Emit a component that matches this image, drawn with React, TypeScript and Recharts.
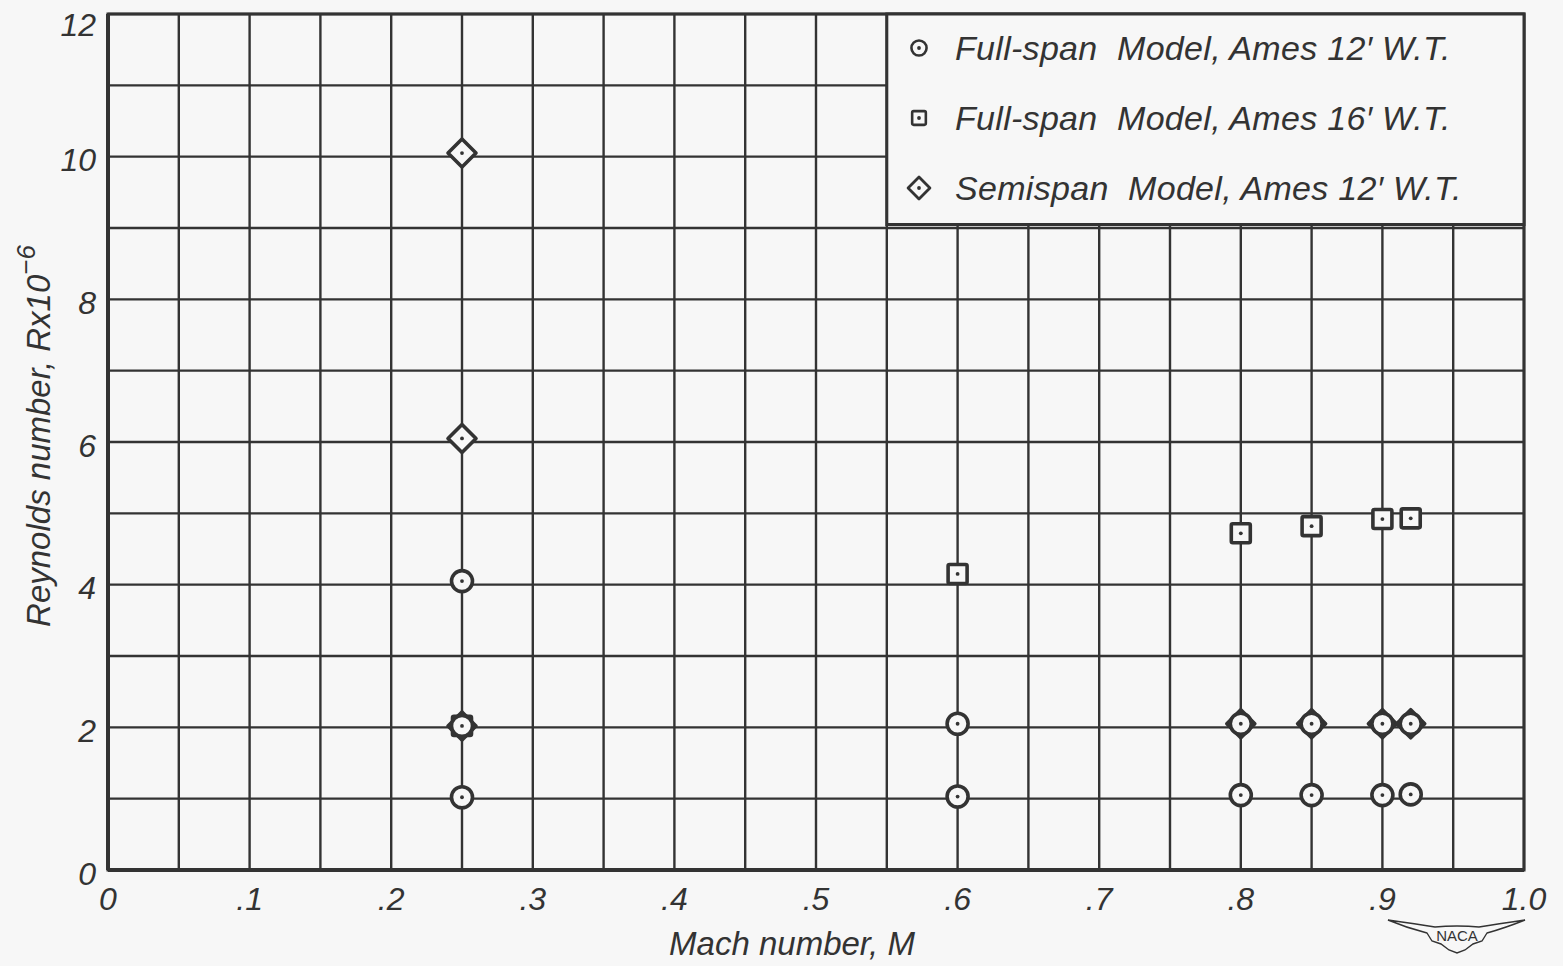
import React from "react";
import {
  ScatterChart,
  Scatter,
  XAxis,
  YAxis,
  CartesianGrid,
  ReferenceArea,
  Legend,
} from "recharts";

const INK = "#333333";
const PAPER = "#f7f7f7";
const FONT = '"Liberation Sans", Arial, sans-serif';

// axis ticks: grid every .05 in M and every 1 in R, labels on every other line
const machTicks = [0, 0.05, 0.1, 0.15, 0.2, 0.25, 0.3, 0.35, 0.4, 0.45, 0.5, 0.55, 0.6, 0.65, 0.7, 0.75, 0.8, 0.85, 0.9, 0.95, 1.0];
const machLabels = ["0", "", ".1", "", ".2", "", ".3", "", ".4", "", ".5", "", ".6", "", ".7", "", ".8", "", ".9", "", "1.0"];
const reTicks = [0, 1, 2, 3, 4, 5, 6, 7, 8, 9, 10, 11, 12];
const reLabels = ["0", "", "2", "", "4", "", "6", "", "8", "", "10", "", "12"];

// Full-span model, Ames 12' W.T.
const fullSpan12Mach = [0.25, 0.25, 0.25, 0.6, 0.6, 0.8, 0.8, 0.85, 0.85, 0.9, 0.9, 0.92, 0.92];
const fullSpan12Re = [1.02, 2.02, 4.05, 1.03, 2.05, 1.05, 2.05, 1.05, 2.05, 1.05, 2.05, 1.06, 2.05];

// Full-span model, Ames 16' W.T.
const fullSpan16Mach = [0.25, 0.6, 0.8, 0.85, 0.9, 0.92];
const fullSpan16Re = [2.02, 4.15, 4.72, 4.82, 4.92, 4.93];

// Semispan model, Ames 12' W.T.
const semispan12Mach = [0.25, 0.25, 0.25, 0.8, 0.85, 0.9, 0.92];
const semispan12Re = [2.02, 6.05, 10.05, 2.05, 2.05, 2.05, 2.05];

const legendItems = [
  { kind: "circle", label: "Full-span  Model, Ames 12\u2032 W.T." },
  { kind: "square", label: "Full-span  Model, Ames 16\u2032 W.T." },
  { kind: "diamond", label: "Semispan  Model, Ames 12\u2032 W.T." },
];

const zip = (ms: number[], rs: number[]) => ms.map((m, i) => ({ m, r: rs[i] }));

const circleData = zip(fullSpan12Mach, fullSpan12Re);
const squareData = zip(fullSpan16Mach, fullSpan16Re);
const diamondData = zip(semispan12Mach, semispan12Re);

function Mark({ kind, cx, cy, size = 1 }: { kind: string; cx: number; cy: number; size?: number }) {
  const sw = 3.6 * size;
  let outline;
  if (kind === "circle") {
    outline = <circle cx={cx} cy={cy} r={10.5 * size} fill={PAPER} stroke={INK} strokeWidth={sw} />;
  } else if (kind === "square") {
    const h = 9.5 * size;
    outline = <rect x={cx - h} y={cy - h} width={2 * h} height={2 * h} rx={1.5} fill={PAPER} stroke={INK} strokeWidth={sw} />;
  } else {
    const h = 14 * size;
    outline = (
      <polygon
        points={`${cx},${cy - h} ${cx + h},${cy} ${cx},${cy + h} ${cx - h},${cy}`}
        fill={PAPER}
        stroke={INK}
        strokeWidth={sw}
        strokeLinejoin="round"
      />
    );
  }
  return (
    <g>
      {outline}
      <circle cx={cx} cy={cy} r={1.9} fill={INK} />
    </g>
  );
}

const shapeOf = (kind: string) => (props: any) => <Mark kind={kind} cx={props.cx} cy={props.cy} />;

function YTick(props: any) {
  const { x, y, payload, index } = props;
  const label = reLabels[index] ?? String(payload.value);
  const yy = Math.max(y + 3, 24);
  return (
    <text x={x} y={yy} dy="0.36em" textAnchor="end" fontFamily={FONT} fontStyle="italic" fontSize={32} fill={INK}>
      {label}
    </text>
  );
}

function LegendBox() {
  return (
    <div style={{ position: "relative", width: 620, height: 200, fontFamily: FONT, fontStyle: "italic", color: INK }}>
      {legendItems.map((item, i) => (
        <div key={item.label} style={{ position: "absolute", left: 0, top: 18 + 70 * i, height: 40, display: "flex", alignItems: "center" }}>
          <svg width={40} height={40} style={{ display: "block" }}>
            <Mark kind={item.kind} cx={20} cy={20} size={item.kind === "diamond" ? 0.78 : 0.72} />
          </svg>
          <span style={{ marginLeft: 16, fontSize: 34, whiteSpace: "pre", letterSpacing: 0.3 }}>{item.label}</span>
        </div>
      ))}
    </div>
  );
}

function XTitle(props: any) {
  const vb = props.viewBox || { x: 0, y: 0, width: 0 };
  return (
    <text x={vb.x + vb.width / 2 - 24} y={vb.y + 85} textAnchor="middle" fontFamily={FONT} fontStyle="italic" fontSize={33} fill={INK}>
      Mach number, M
    </text>
  );
}

function YTitle(props: any) {
  const vb = props.viewBox || { x: 0, y: 0, height: 0 };
  const cx = 50;
  const cy = vb.y + vb.height / 2 - 6;
  return (
    <text transform={`translate(${cx},${cy}) rotate(-90)`} textAnchor="middle" fontFamily={FONT} fontStyle="italic" fontSize={33} fill={INK}>
      Reynolds number, Rx10
      <tspan dy={-15} fontSize={26}>{"\u2212"}6</tspan>
    </text>
  );
}

function NacaLogo() {
  return (
    <svg width={140} height={40} style={{ position: "absolute", left: 1387, top: 917 }}>
      <path
        d="M1,3 Q30,7 48,10 Q58,9 70,9 Q82,9 92,10 Q110,7 138,3 Q118,11 100,16 L95,24 L86,27 L78,33 L70,36 L62,33 L54,27 L45,24 L40,16 Q20,11 1,3 Z"
        fill="none"
        stroke={INK}
        strokeWidth={1.4}
      />
      <text x={70} y={24} textAnchor="middle" fontFamily={FONT} fontSize={15} fill={INK}>
        NACA
      </text>
    </svg>
  );
}

export default function App() {
  const tickStyle = { fontSize: 32, fontStyle: "italic", fontFamily: FONT, fill: INK };
  return (
    <div style={{ position: "absolute", left: 0, top: 0, width: 1563, height: 966, background: PAPER }}>
      <ScatterChart width={1563} height={966} margin={{ top: 14, right: 39, bottom: 36, left: 48 }}>
        <CartesianGrid stroke={INK} strokeWidth={2.4} horizontalValues={reTicks} verticalValues={machTicks} />
        <XAxis
          type="number"
          dataKey="m"
          domain={[0, 1]}
          ticks={machTicks}
          interval={0}
          tickFormatter={(_v: number, i: number) => machLabels[i]}
          tickLine={false}
          tickMargin={11}
          tick={tickStyle}
          axisLine={{ stroke: INK, strokeWidth: 4 }}
          height={60}
          label={<XTitle />}
        />
        <YAxis
          type="number"
          dataKey="r"
          domain={[0, 12]}
          ticks={reTicks}
          interval={0}
          tickLine={false}
          tickMargin={6}
          tick={<YTick />}
          axisLine={{ stroke: INK, strokeWidth: 4 }}
          width={60}
          label={<YTitle />}
        />
        <ReferenceArea x1={0} x2={1} y1={0} y2={12} fill="none" stroke={INK} strokeWidth={3} />
        <ReferenceArea x1={0.55} x2={1} y1={9.05} y2={12} fill={PAPER} fillOpacity={1} stroke={INK} strokeWidth={3} />
        <Scatter name="Full-span Model, Ames 16' W.T." data={squareData} shape={shapeOf("square")} isAnimationActive={false} />
        <Scatter name="Semispan Model, Ames 12' W.T." data={diamondData} shape={shapeOf("diamond")} isAnimationActive={false} />
        <Scatter name="Full-span Model, Ames 12' W.T." data={circleData} shape={shapeOf("circle")} isAnimationActive={false} />
        <Legend
          layout="horizontal"
          verticalAlign="middle"
          align="center"
          wrapperStyle={{ left: 899, top: 10, width: 620, height: 200 }}
          content={() => <LegendBox />}
        />
      </ScatterChart>
      <NacaLogo />
    </div>
  );
}
